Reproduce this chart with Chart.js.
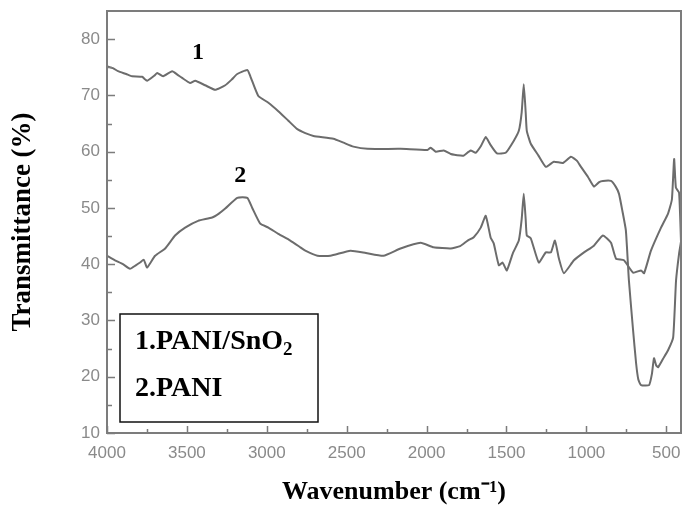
<!DOCTYPE html>
<html>
<head>
<meta charset="utf-8">
<script src="https://cdn.jsdelivr.net/npm/chart.js@4/dist/chart.umd.min.js"></script>
<style>
  html, body { margin: 0; padding: 0; background: #ffffff; }
  canvas { display: block; }
</style>
</head>
<body>
<canvas id="ftir" width="682" height="511"></canvas>
<script>
// FTIR spectra: wavenumber (cm-1) and transmittance (%)
const wavenumbersPaniSnO2 = [
  4000, 3960, 3931, 3880, 3843, 3780, 3749, 3700, 3686, 3649, 3592, 3560, 3530, 3480,
  3448, 3386, 3323, 3260, 3220, 3185, 3122, 3103, 3053, 2990, 2928, 2865, 2809, 2759,
  2708, 2583, 2520, 2458, 2370, 2163, 1994, 1975, 1943, 1893, 1849, 1787, 1768, 1724,
  1693, 1660, 1630, 1600, 1560, 1505, 1455, 1423, 1405, 1392, 1380, 1373, 1348, 1300,
  1254, 1204, 1147, 1097, 1060, 1034, 990, 953, 920, 897, 846, 815, 796, 775, 753, 734,
  708, 689, 675, 658, 608, 590, 577, 563, 551, 520, 489, 457, 439, 420, 408
];
const transmittancePaniSnO2 = [
  75.2, 74.8, 74.3, 73.8, 73.4, 73.3, 72.6, 73.6, 74.0, 73.4, 74.3, 73.7, 73.1, 72.2,
  72.6, 71.8, 71.0, 71.8, 72.8, 73.8, 74.5, 73.4, 69.9, 68.7, 67.2, 65.5, 64.0, 63.3,
  62.8, 62.3, 61.6, 60.9, 60.5, 60.5, 60.3, 60.7, 60.0, 60.2, 59.6, 59.3, 59.3, 60.2,
  59.8, 61.0, 62.6, 61.2, 59.7, 59.8, 61.9, 63.7, 67.0, 72.0, 67.0, 63.7, 61.4, 59.3,
  57.3, 58.2, 58.0, 59.1, 58.4, 57.3, 55.5, 53.8, 54.6, 54.8, 54.8, 53.7, 52.5, 49.5, 46.0, 37.1,
  28.3, 22.4, 19.5, 18.5, 18.5, 20.5, 23.3, 22.0, 21.7, 23.2, 24.7, 27.0, 37.1, 41.9, 44.0
];

const wavenumbersPani = [
  4000, 3950, 3900, 3856, 3820, 3793, 3770, 3749, 3699, 3636, 3574, 3511, 3430, 3342,
  3300, 3260, 3185, 3122, 3091, 3041, 2990, 2928, 2853, 2790, 2759, 2683, 2602, 2477,
  2380, 2270, 2163, 2037, 1956, 1849, 1790, 1743, 1705, 1661, 1630, 1599, 1580, 1548,
  1525, 1498, 1461, 1423, 1405, 1392, 1380, 1373, 1348, 1298, 1254, 1222, 1197, 1172,
  1141, 1078, 1015, 953, 897, 846, 815, 765, 708, 658, 639, 596, 533, 489, 465, 451,
  440, 420, 408
];
const transmittancePani = [
  41.5, 40.7, 40.0, 39.2, 39.8, 40.3, 40.8, 39.4, 41.5, 42.8, 45.1, 46.5, 47.7, 48.3,
  49.0, 49.9, 51.8, 51.8, 50.0, 47.2, 46.5, 45.4, 44.2, 43.0, 42.4, 41.5, 41.5, 42.4,
  42.0, 41.5, 42.8, 43.8, 43.0, 42.8, 43.2, 44.2, 44.8, 46.5, 48.6, 44.7, 43.7, 39.8,
  40.3, 38.9, 41.9, 44.2, 48.0, 52.5, 48.0, 45.1, 44.6, 40.3, 42.1, 42.1, 44.2, 41.0,
  38.4, 40.7, 42.1, 43.3, 45.1, 43.8, 41.0, 40.7, 38.5, 38.9, 38.4, 42.4, 46.5, 49.0, 51.5, 58.7,
  53.6, 52.7, 44.0
];

const xTickValues = [4000, 3500, 3000, 2500, 2000, 1500, 1000, 500];
const xMinorTickValues = [3750, 3250, 2750, 2250, 1750, 1250, 750];
const yTickValues = [10, 20, 30, 40, 50, 60, 70, 80];
const yMinorTickValues = [15, 25, 35, 45, 55, 65, 75];

const seriesNames = ['1.PANI/SnO', '2.PANI'];
const seriesSubscripts = ['2', ''];
const curveTags = [
  { text: '1', w: 3430, t: 77.6 },
  { text: '2', w: 3166, t: 55.7 }
];

const lineColor = '#6c6c6c';
const axisColor = '#7c7c7c';

function toPoints(xs, ys) {
  return xs.map((x, i) => ({ x: x, y: ys[i] }));
}

// Frame, inward tick marks, curve numbers and the boxed key
const decorations = {
  id: 'decorations',
  afterDraw(chart) {
    const { ctx, chartArea: a, scales: { x, y } } = chart;
    ctx.save();

    ctx.strokeStyle = axisColor;
    ctx.lineWidth = 2;
    ctx.strokeRect(a.left, a.top, a.right - a.left, a.bottom - a.top);

    ctx.lineWidth = 1.5;
    ctx.beginPath();
    xTickValues.forEach(v => {
      const px = Math.round(x.getPixelForValue(v)) + 0.5;
      ctx.moveTo(px, a.bottom); ctx.lineTo(px, a.bottom - 7);
    });
    xMinorTickValues.forEach(v => {
      const px = Math.round(x.getPixelForValue(v)) + 0.5;
      ctx.moveTo(px, a.bottom); ctx.lineTo(px, a.bottom - 4);
    });
    yTickValues.forEach(v => {
      const py = Math.round(y.getPixelForValue(v)) + 0.5;
      ctx.moveTo(a.left, py); ctx.lineTo(a.left + 8, py);
    });
    yMinorTickValues.forEach(v => {
      const py = Math.round(y.getPixelForValue(v)) + 0.5;
      ctx.moveTo(a.left, py); ctx.lineTo(a.left + 5, py);
    });
    ctx.stroke();

    ctx.fillStyle = '#000';
    ctx.font = 'bold 24px "Liberation Serif"';
    ctx.textAlign = 'center';
    ctx.textBaseline = 'middle';
    curveTags.forEach(tag => {
      ctx.fillText(tag.text, x.getPixelForValue(tag.w), y.getPixelForValue(tag.t));
    });

    const bx = a.left + 13, by = a.top + 303, bw = 198, bh = 108;
    ctx.strokeStyle = '#111';
    ctx.lineWidth = 1.5;
    ctx.strokeRect(bx, by, bw, bh);

    ctx.textAlign = 'left';
    ctx.textBaseline = 'alphabetic';
    const rowBaselines = [by + 35, by + 82];
    seriesNames.forEach((name, i) => {
      ctx.font = 'bold 28px "Liberation Serif"';
      ctx.fillText(name, bx + 15, rowBaselines[i]);
      if (seriesSubscripts[i]) {
        const w = ctx.measureText(name).width;
        ctx.font = 'bold 19px "Liberation Serif"';
        ctx.fillText(seriesSubscripts[i], bx + 15 + w, rowBaselines[i] + 6);
      }
    });

    ctx.restore();
  }
};

new Chart(document.getElementById('ftir'), {
  type: 'line',
  data: {
    datasets: [
      {
        label: seriesNames[0] + seriesSubscripts[0],
        data: toPoints(wavenumbersPaniSnO2, transmittancePaniSnO2),
        borderColor: lineColor, borderWidth: 2, pointRadius: 0, tension: 0.15, fill: false
      },
      {
        label: seriesNames[1],
        data: toPoints(wavenumbersPani, transmittancePani),
        borderColor: lineColor, borderWidth: 2, pointRadius: 0, tension: 0.15, fill: false
      }
    ]
  },
  options: {
    responsive: false,
    animation: false,
    devicePixelRatio: 1,
    layout: { padding: { top: 11, right: 1, left: 0, bottom: 0 } },
    plugins: { legend: { display: false }, tooltip: { enabled: false } },
    scales: {
      x: {
        type: 'linear', reverse: true, min: 408, max: 4000,
        afterFit(s) { s.height = 78; s.paddingLeft = 0; s.paddingRight = 0; },
        afterBuildTicks(s) { s.ticks = xTickValues.map(v => ({ value: v })); },
        grid: { display: false, drawTicks: false },
        border: { display: false },
        ticks: {
          padding: 10, color: '#8a8a8a', maxRotation: 0, autoSkip: false,
          font: { family: 'Liberation Sans', size: 17 },
          callback: v => String(v)
        },
        title: {
          display: true, text: 'Wavenumber (cm⁻¹)', color: '#000',
          font: { family: 'Liberation Serif', size: 26, weight: 'bold' },
          padding: { top: 0, bottom: 3 }
        }
      },
      y: {
        type: 'linear', min: 10, max: 85,
        afterFit(s) { s.width = 107; s.paddingTop = 0; s.paddingBottom = 0; },
        afterBuildTicks(s) { s.ticks = yTickValues.map(v => ({ value: v })); },
        grid: { display: false, drawTicks: false },
        border: { display: false },
        ticks: {
          padding: 7, color: '#8a8a8a',
          font: { family: 'Liberation Sans', size: 17 },
          callback: v => String(v)
        },
        title: {
          display: true, text: 'Transmittance (%)', color: '#000',
          font: { family: 'Liberation Serif', size: 27, weight: 'bold' },
          padding: { top: 7, bottom: 0 }
        }
      }
    }
  },
  plugins: [decorations]
});
</script>
</body>
</html>
